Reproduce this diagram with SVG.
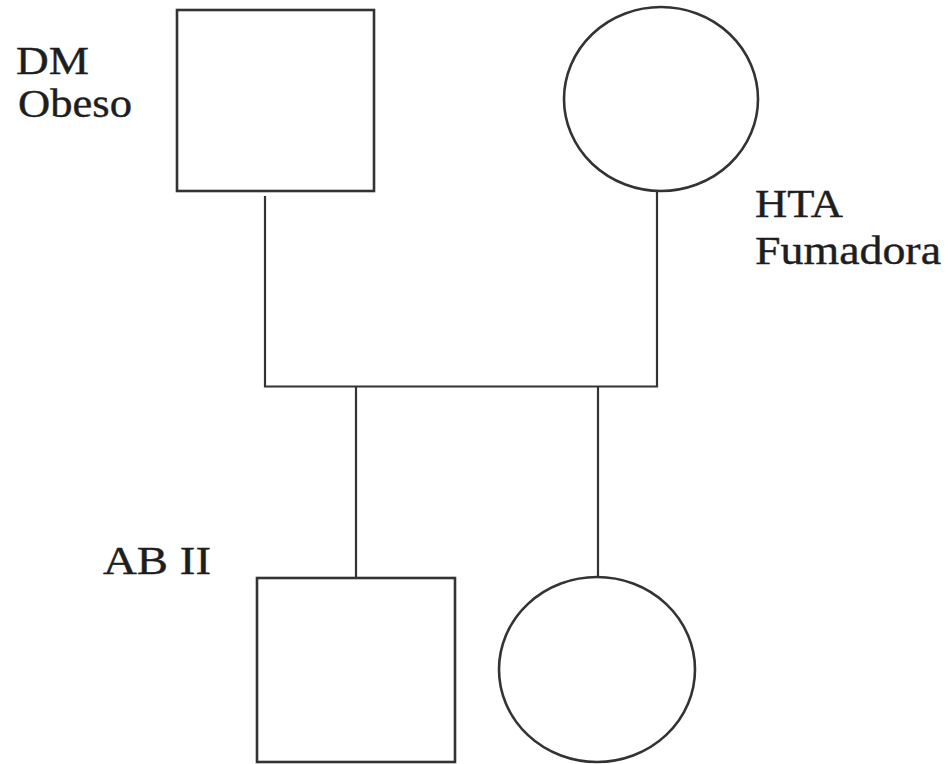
<svg xmlns="http://www.w3.org/2000/svg" width="951" height="764" viewBox="0 0 951 764">
<style>
.shape{fill:#fff;stroke:#333;stroke-width:2.6}
.conn{fill:none;stroke:#333;stroke-width:2.2}
.lbl{font-family:"Liberation Serif","Times New Roman",serif;font-size:41px;fill:#1e1e1e;stroke:#1e1e1e;stroke-width:0.4}
</style>
<rect width="951" height="764" fill="#fff"/>
<g id="connectors">
<path class="conn" d="M265,196 V386.5 H657 V191"/>
<path class="conn" d="M356,386.5 V578"/>
<path class="conn" d="M598,386.5 V577"/>
</g>
<g id="father">
<rect class="shape" x="177" y="10" width="197" height="181"/>
<text class="lbl" x="16" y="74" textLength="73" lengthAdjust="spacingAndGlyphs">DM</text>
<text class="lbl" x="18" y="117" textLength="114" lengthAdjust="spacingAndGlyphs">Obeso</text>
</g>
<g id="mother">
<ellipse class="shape" cx="661" cy="99" rx="97" ry="92"/>
<text class="lbl" x="755" y="217" textLength="88" lengthAdjust="spacingAndGlyphs">HTA</text>
<text class="lbl" x="755" y="264" textLength="186" lengthAdjust="spacingAndGlyphs">Fumadora</text>
</g>
<g id="son">
<rect class="shape" x="257" y="578" width="198" height="184"/>
<text class="lbl" x="103" y="574" textLength="108" lengthAdjust="spacingAndGlyphs">AB II</text>
</g>
<g id="daughter">
<ellipse class="shape" cx="597" cy="669.5" rx="98" ry="92.5"/>
</g>
</svg>
